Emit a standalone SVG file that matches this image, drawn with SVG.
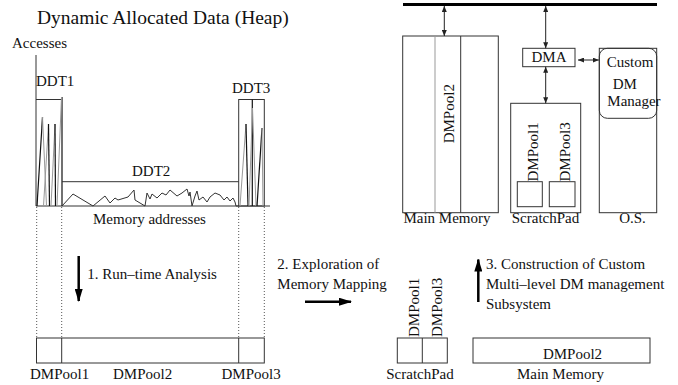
<svg xmlns="http://www.w3.org/2000/svg" width="678" height="385" viewBox="0 0 678 385">
<style>
  text { font-family: "Liberation Serif", "Times New Roman", serif; font-size: 15px; fill: #111; }
  .title { font-size: 19.5px; }
  .box { fill: #fff; stroke: #333; stroke-width: 1; }
  .ln { fill: none; stroke: #333; stroke-width: 1; }
  .gl { fill: none; stroke: #999; stroke-width: 1; }
  .bk { fill: none; stroke: #111; stroke-width: 1.2; }
  .dot { fill: none; stroke: #555; stroke-width: 1; stroke-dasharray: 1 2; }
  .dbl { fill: none; stroke: #222; stroke-width: 1; marker-start: url(#ah); marker-end: url(#ah); }
  .big { fill: none; stroke: #000; stroke-width: 2.5; marker-end: url(#bh); }
</style>
<defs>
  <marker id="ah" markerUnits="userSpaceOnUse" markerWidth="6" markerHeight="5" refX="6" refY="2.5" orient="auto-start-reverse">
    <path d="M0,0 L6,2.5 L0,5 z" fill="#222"/>
  </marker>
  <marker id="bh" markerUnits="userSpaceOnUse" markerWidth="13" markerHeight="8" refX="12" refY="4" orient="auto">
    <path d="M0,0 L13,4 L0,8 z" fill="#000"/>
  </marker>
</defs>

<rect width="678" height="385" fill="#fff"/>

<!-- Left: heap access chart -->
<g id="heap-chart">
  <text class="title" x="37" y="24">Dynamic Allocated Data (Heap)</text>
  <text x="12" y="48">Accesses</text>
  <line class="ln" x1="36" y1="55" x2="36" y2="206"/>
  <line class="ln" x1="36" y1="206" x2="270" y2="206"/>
  <text x="93" y="224">Memory addresses</text>
</g>

<g id="DDT1">
  <text x="36" y="86">DDT1</text>
  <line class="ln" x1="36" y1="99.5" x2="62" y2="99.5"/>
  <line class="bk" x1="62" y1="97" x2="62" y2="206"/>
  <path class="bk" d="M37,206 L42.5,117"/>
  <path class="gl" d="M42.5,117 L46.5,206"/>
  <path class="gl" d="M43.5,206 L48.5,124"/>
  <path class="bk" d="M48.5,124 L49.5,206"/>
  <path class="gl" d="M51,206 L55,124"/>
  <path class="bk" d="M55,124 L55.5,206"/>
  <path class="gl" d="M57,206 L61.5,97"/>
</g>

<g id="DDT2">
  <text x="132" y="176">DDT2</text>
  <line class="ln" x1="62" y1="181.7" x2="238.7" y2="181.7"/>
  <polyline class="ln" stroke="#444" points="62,206 73,194 93,206 105,196 110,203 115,198 118,200 128,197 134,190 135,200 145,206 147,193 150,199 152,194 157,198 162,193 166,195 170,190 177,196 182,193 187,189 189,196 190,192 192,206 195,196 197,191 199,200 203,197 207,202 210,197 215,193 220,195 224,200 227,197 230,201 233,198 235,202 236,206 239,206"/>
</g>

<g id="DDT3">
  <text x="232" y="93">DDT3</text>
  <rect class="ln" x="238.7" y="99.5" width="25.6" height="106.5"/>
  <line class="bk" x1="252.3" y1="99.5" x2="252.3" y2="206"/>
  <path class="gl" d="M240,206 L246,124"/>
  <path class="bk" d="M246,124 L248,206"/>
  <path class="gl" d="M249,206 L252.5,108"/>
  <path class="gl" d="M252.5,108 L256,206"/>
  <path class="bk" d="M257,206 L262,128"/>
  <path class="gl" d="M262,128 L263,206"/>
</g>

<g id="dotted-guides">
  <line class="dot" x1="36.7" y1="207" x2="36.7" y2="338"/>
  <line class="dot" x1="61.7" y1="207" x2="61.7" y2="338"/>
  <line class="dot" x1="238.7" y1="207" x2="238.7" y2="338"/>
  <line class="dot" x1="264.3" y1="207" x2="264.3" y2="338"/>
</g>

<g id="pools-bar">
  <rect class="box" x="36.5" y="338" width="227.8" height="25"/>
  <line class="ln" x1="61.7" y1="338" x2="61.7" y2="363"/>
  <line class="ln" x1="238.7" y1="338" x2="238.7" y2="363"/>
  <text x="30" y="379">DMPool1</text>
  <text x="113" y="379">DMPool2</text>
  <text x="221.5" y="379">DMPool3</text>
</g>

<!-- Step arrows and labels -->
<g id="step1">
  <line class="big" x1="78.7" y1="256" x2="78.7" y2="301"/>
  <text x="87.3" y="279">1. Run–time Analysis</text>
</g>
<g id="step2">
  <text x="277.3" y="269.3">2. Exploration of</text>
  <text x="277.3" y="289.3">Memory Mapping</text>
  <line class="big" x1="305" y1="301.7" x2="351" y2="301.7"/>
</g>
<g id="step3">
  <line class="big" x1="478.3" y1="302" x2="478.3" y2="259.5"/>
  <text x="486" y="269.3">3. Construction of Custom</text>
  <text x="486" y="289.3">Multi–level DM management</text>
  <text x="486" y="308.5">Subsystem</text>
</g>

<!-- Bottom right mapping -->
<g id="mapped-scratchpad">
  <rect class="box" x="397.3" y="338" width="50" height="25"/>
  <line class="ln" x1="422.3" y1="338" x2="422.3" y2="363"/>
  <text transform="translate(418.5,337) rotate(-90)">DMPool1</text>
  <text transform="translate(442,337) rotate(-90)">DMPool3</text>
  <text x="420" y="379" text-anchor="middle">ScratchPad</text>
</g>
<g id="mapped-mainmemory">
  <rect class="box" x="473" y="338" width="177" height="25"/>
  <text x="572.5" y="359" text-anchor="middle">DMPool2</text>
  <text x="560.5" y="379" text-anchor="middle">Main Memory</text>
</g>

<!-- Top right architecture -->
<g id="bus">
  <line x1="403" y1="4.5" x2="657" y2="4.5" stroke="#000" stroke-width="3"/>
</g>

<g id="main-memory">
  <rect class="box" x="402.7" y="36" width="95.6" height="176.7"/>
  <line class="gl" x1="435" y1="36" x2="435" y2="212.7"/>
  <line class="ln" x1="460.7" y1="36" x2="460.7" y2="212.7"/>
  <text transform="translate(454,143.3) rotate(-90)">DMPool2</text>
  <text x="447" y="223" text-anchor="middle">Main Memory</text>
</g>

<g id="dma">
  <rect class="box" x="522.7" y="48.3" width="52.3" height="18.4"/>
  <text x="549" y="62" text-anchor="middle">DMA</text>
</g>

<g id="scratchpad">
  <rect class="box" x="510.7" y="103.3" width="70" height="109.4"/>
  <rect class="box" x="517.3" y="181.7" width="25" height="25"/>
  <rect class="box" x="549.3" y="181.7" width="25.7" height="25"/>
  <text transform="translate(538,181.5) rotate(-90)">DMPool1</text>
  <text transform="translate(569.5,181.5) rotate(-90)">DMPool3</text>
  <text x="545.5" y="223" text-anchor="middle">ScratchPad</text>
</g>

<g id="os">
  <rect class="box" x="599.3" y="48.3" width="57.4" height="164.4"/>
  <rect class="ln" x="599.3" y="48.3" width="57.4" height="70" rx="8" ry="8"/>
  <text x="606.7" y="67">Custom</text>
  <text x="612.7" y="88.5">DM</text>
  <text x="607.3" y="106">Manager</text>
  <text x="632.5" y="223" text-anchor="middle">O.S.</text>
</g>

<g id="connectors">
  <line class="dbl" x1="444.3" y1="6" x2="444.3" y2="36"/>
  <line class="dbl" x1="545.7" y1="6" x2="545.7" y2="48.3"/>
  <line class="dbl" x1="545.7" y1="66.7" x2="545.7" y2="103.3"/>
  <line class="dbl" x1="578" y1="60" x2="598.8" y2="60"/>
</g>
</svg>
